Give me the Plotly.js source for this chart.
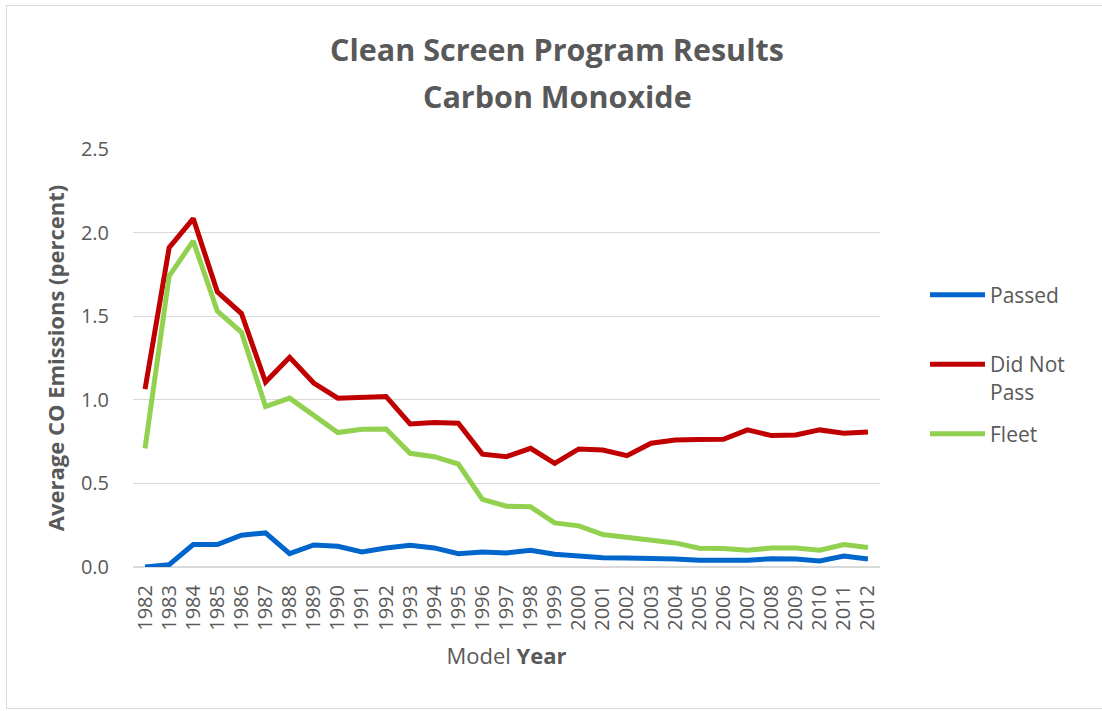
<!DOCTYPE html>
<html>
<head>
<meta charset="utf-8">
<script src="https://cdn.plot.ly/plotly-3.0.1.min.js"></script>
<style>
  html, body { margin: 0; padding: 0; background: #ffffff; }
  #wrap { position: relative; width: 1102px; height: 711px; overflow: hidden; }
  #chart { position: absolute; left: 0; top: 0; width: 1102px; height: 711px; }
  #frame { position: absolute; left: 6px; top: 5px; width: 1110px; height: 704px; border: 1.5px solid #d9d9d9; box-sizing: border-box; pointer-events: none; }
</style>
</head>
<body>
<div id="wrap">
  <div id="chart"></div>
  <div id="frame"></div>
</div>
<script>
const years = ['1982','1983','1984','1985','1986','1987','1988','1989','1990','1991',
  '1992','1993','1994','1995','1996','1997','1998','1999','2000','2001',
  '2002','2003','2004','2005','2006','2007','2008','2009','2010','2011','2012'];

const passed = [0.00,0.014,0.134,0.134,0.19,0.204,0.08,0.132,0.124,0.09,
  0.114,0.13,0.114,0.08,0.09,0.084,0.10,0.076,0.066,0.056,
  0.054,0.052,0.048,0.04,0.042,0.04,0.05,0.048,0.036,0.066,0.048];

const didNotPass = [1.064,1.91,2.084,1.646,1.516,1.106,1.254,1.10,1.01,1.016,
  1.02,0.856,0.864,0.86,0.675,0.66,0.71,0.62,0.706,0.70,
  0.666,0.74,0.76,0.762,0.764,0.82,0.786,0.79,0.82,0.80,0.808];

const fleet = [0.71,1.74,1.95,1.53,1.404,0.96,1.01,0.904,0.804,0.824,
  0.826,0.68,0.66,0.616,0.404,0.364,0.36,0.264,0.246,0.194,
  0.176,0.156,0.144,0.112,0.11,0.10,0.114,0.114,0.10,0.134,0.116];

const seriesNames = ['Passed', 'Did Not<br>Pass', 'Fleet'];
const yTicks = [0, 0.5, 1.0, 1.5, 2.0, 2.5];

const FONT = 'Open Sans, Noto Sans, sans-serif';
const GREY = '#595959';

const traces = [
  { x: years, y: passed, name: seriesNames[0], legend: 'legend',
    type: 'scatter', mode: 'lines', line: { color: '#0066CC', width: 5 } },
  { x: years, y: didNotPass, name: seriesNames[1], legend: 'legend2',
    type: 'scatter', mode: 'lines', line: { color: '#C00000', width: 5 } },
  { x: years, y: fleet, name: seriesNames[2], legend: 'legend3',
    type: 'scatter', mode: 'lines', line: { color: '#92D050', width: 5 } }
];

// plot area in pixels: x 133..880, y 149..567
const px = v => (v - 133) / 747;
const py = v => (567 - v) / 418;

function legendAt(yCenter) {
  return {
    x: px(925), xanchor: 'left', y: py(yCenter), yanchor: 'middle',
    font: { size: 21, color: GREY, family: FONT },
    valign: 'top', itemwidth: 55, bgcolor: 'rgba(0,0,0,0)'
  };
}

const layout = {
  width: 1102, height: 711,
  margin: { l: 133, r: 222, t: 149, b: 144 },
  paper_bgcolor: 'rgba(0,0,0,0)', plot_bgcolor: '#ffffff',
  font: { family: FONT, color: GREY, size: 20 },
  title: {
    text: '<b>Clean Screen Program Results</b>',
    font: { family: FONT, size: 30.5, color: GREY },
    xref: 'container', x: 0.5054, xanchor: 'center',
    yref: 'container', y: 1 - 50/711, yanchor: 'middle'
  },
  annotations: [{
    text: '<b>Carbon Monoxide</b>', showarrow: false,
    xref: 'paper', yref: 'paper',
    x: px(557), y: py(96), xanchor: 'center', yanchor: 'middle',
    font: { family: FONT, size: 30.5, color: GREY }
  }],
  xaxis: {
    type: 'category', range: [-0.5, 30.5],
    tickangle: -90, tickfont: { size: 20, color: GREY },
    ticks: 'outside', ticklen: 9, tickcolor: 'rgba(0,0,0,0)',
    showgrid: false, showline: false, zeroline: false,
    title: { text: 'Model <b>Year</b>', font: { size: 22, color: GREY }, standoff: 18 }
  },
  yaxis: {
    range: [0, 2.5], tickvals: yTicks, tickformat: '.1f',
    tickfont: { size: 20, color: GREY },
    ticks: 'outside', ticklen: 19, tickcolor: 'rgba(0,0,0,0)',
    showgrid: true, gridcolor: '#d9d9d9', gridwidth: 1.3,
    zeroline: true, zerolinecolor: '#d9d9d9', zerolinewidth: 1.3,
    showline: false,
    title: { text: '<b>Average CO Emissions (percent)</b>', font: { size: 22, color: GREY }, standoff: 10 }
  },
  showlegend: true,
  legend: legendAt(295),
  legend2: legendAt(378),
  legend3: legendAt(434)
};

function stretchLegendLines() {
  document.querySelectorAll('#chart .legendlines path').forEach(p => {
    p.setAttribute('d', 'M5,0h55');
  });
}

Plotly.newPlot('chart', traces, layout, { displayModeBar: false, staticPlot: true })
  .then(stretchLegendLines);
</script>
</body>
</html>
